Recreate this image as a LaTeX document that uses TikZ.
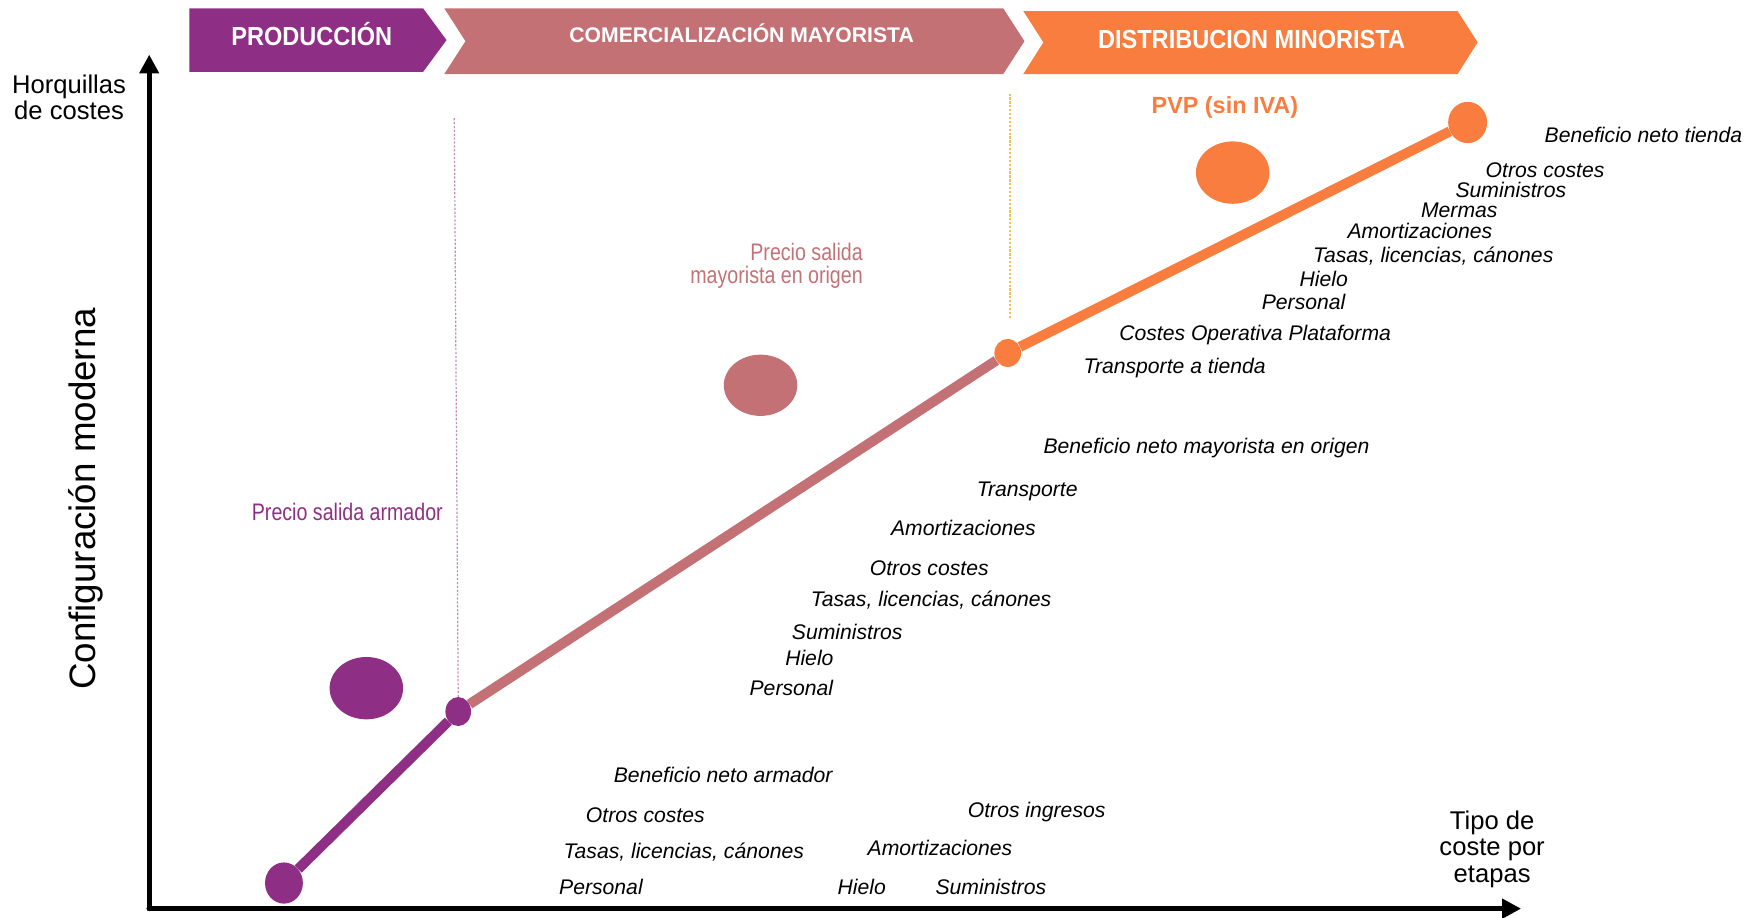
\documentclass[tikz,border=0pt]{standalone}
\usepackage{fontspec}
\setmainfont{Liberation Sans}
\newfontfamily\narrowsans[FakeStretch=0.82]{Liberation Sans}
\newfontfamily\bandsans[FakeStretch=0.9]{Liberation Sans}
\usetikzlibrary{arrows.meta,shapes.geometric}
\definecolor{prod}{HTML}{8E2F85}
\definecolor{mayor}{HTML}{C47176}
\definecolor{minor}{HTML}{F97D3E}
\definecolor{guia}{HTML}{F2C24E}

\begin{document}
\begin{tikzpicture}[x=1pt,y=-1pt,line cap=round,line join=round,
    coste/.style={anchor=base west,inner sep=0pt,yshift=-2pt,font=\fontsize{19}{22}\selectfont\itshape},
    etiqueta/.style={inner sep=0pt,align=center,font=\fontsize{23}{23.8}\selectfont},
    banda/.style={anchor=base,inner sep=0pt,text=white},
    precio/.style={inner sep=0pt,font=\narrowsans\fontsize{21.5}{21}\selectfont},
    punto/.style={ellipse,fill=#1,inner sep=0pt},
    tramo/.style={line width=9pt,line cap=butt,#1},
    eje/.style={line width=4.5pt,-{Triangle[length=17pt,width=17pt]}},
    guiado/.style={line width=1.1pt,line cap=butt,dash pattern=on 2pt off 1.5pt}]
  \useasboundingbox (0,0) rectangle (1568,824);

  % Stage banners along the top.
  \fill[prod] (170,7.5) -- (380,7.5) -- (401,36) -- (380,64.5) -- (170,64.5) -- cycle;
  \fill[mayor] (399,7.5) -- (901,7.5) -- (920,37) -- (901,66.5) -- (399,66.5) -- (418,37) -- cycle;
  \fill[minor] (919,10) -- (1309,10) -- (1327,38) -- (1309,66.5) -- (919,66.5) -- (937,38) -- cycle;
  \node[banda,font=\bandsans\fontsize{23.5}{24}\selectfont\bfseries] (bandaprod) at (280,41) {PRODUCCIÓN};
  \node[banda,font=\fontsize{19}{22}\selectfont\bfseries] (bandamayor) at (666,38.5) {COMERCIALIZACIÓN MAYORISTA};
  \node[banda,font=\bandsans\fontsize{23.5}{24}\selectfont\bfseries] (bandaminor) at (1124,43.5) {DISTRIBUCION MINORISTA};

  % Axes.
  \coordinate (origen) at (134,816);
  \coordinate (ytope) at (134,49);
  \coordinate (xfin) at (1366,816);
  \draw[eje] (origen) -- (ytope);
  \draw[eje,line width=5pt] (origen) -- (xfin);
  \node[etiqueta,anchor=north] (horquillas) at (62,67) {Horquillas\\de costes};
  \node[etiqueta,anchor=north] (tipo) at (1340,728) {Tipo de\\coste por\\etapas};
  \node[inner sep=0pt,anchor=base,rotate=90,font=\fontsize{33}{36}\selectfont] (config) at (86,448) {Configuración moderna};

  % Price bubbles.
  \node[punto=prod,minimum width=66pt,minimum height=56pt] (bolaprod) at (329,618) {};
  \node[punto=mayor,minimum width=66pt,minimum height=55pt] (bolamayor) at (683,346) {};
  \node[punto=minor,minimum width=66pt,minimum height=56pt] (bolaminor) at (1107,155) {};

  % Cost line through the stages.
  \node[punto=prod,minimum width=34pt,minimum height=37pt] (inicio) at (255,793) {};
  \node[punto=prod,minimum width=23pt,minimum height=26pt] (armador) at (411.5,639) {};
  \node[punto=minor,minimum width=24pt,minimum height=25pt] (mayorista) at (905,317) {};
  \node[punto=minor,minimum width=35pt,minimum height=37pt] (tienda) at (1318,110) {};
  \draw[tramo=prod] (inicio) -- (armador);
  \draw[tramo=mayor] (armador) -- (mayorista);
  \draw[tramo=minor] (mayorista) -- (tienda);

  % Dotted stage guides.
  \coordinate (guiaprod) at (408,106);
  \coordinate (guiaminor) at (907,84);
  \coordinate (guiaminorfin) at (907,287);
  \draw[guiado,prod!55] (guiaprod) -- (armador.north);
  \draw[guiado,guia] (guiaminor) -- (guiaminorfin);

  % Price labels.
  \node[precio,text=prod,anchor=base west] (salidaprod) at (226,467.5) {Precio salida armador};
  \node[precio,text=mayor,anchor=north east,align=right] (salidamayor) at (775,218) {Precio salida\\mayorista en origen};
  \node[anchor=base,inner sep=0pt,text=minor,font=\fontsize{21}{24}\selectfont\bfseries] (pvp) at (1100,102) {PVP (sin IVA)};

  % Cost items, producer stage.
  \foreach \x/\y/\t [count=\i] in {551/700.5/Beneficio neto armador,526/736.5/Otros costes,
      506/769/{Tasas, licencias, cánones},502/801/Personal,869/732/Otros ingresos,
      779/766/Amortizaciones,752/801/Hielo,840/801/Suministros}{
    \node[coste] (prodcoste\i) at (\x,\y) {\t};
  }

  % Cost items, wholesale stage.
  \foreach \x/\y/\t [count=\i] in {937/405.5/Beneficio neto mayorista en origen,877/443.5/Transporte,
      800/479/Amortizaciones,781/515/Otros costes,728/543/{Tasas, licencias, cánones},
      711/572/Suministros,705/595.5/Hielo,673/623/Personal}{
    \node[coste] (mayorcoste\i) at (\x,\y) {\t};
  }

  % Cost items, retail stage.
  \foreach \x/\y/\t [count=\i] in {1387/126/Beneficio neto tienda,1334/157/Otros costes,
      1307/175.5/Suministros,1276/193.5/Mermas,1210/212.5/Amortizaciones,
      1179/233.5/{Tasas, licencias, cánones},1167/255/Hielo,1133/276/Personal,
      1005/303.5/Costes Operativa Plataforma,973/333/Transporte a tienda}{
    \node[coste] (minorcoste\i) at (\x,\y) {\t};
  }
\end{tikzpicture}
\end{document}
